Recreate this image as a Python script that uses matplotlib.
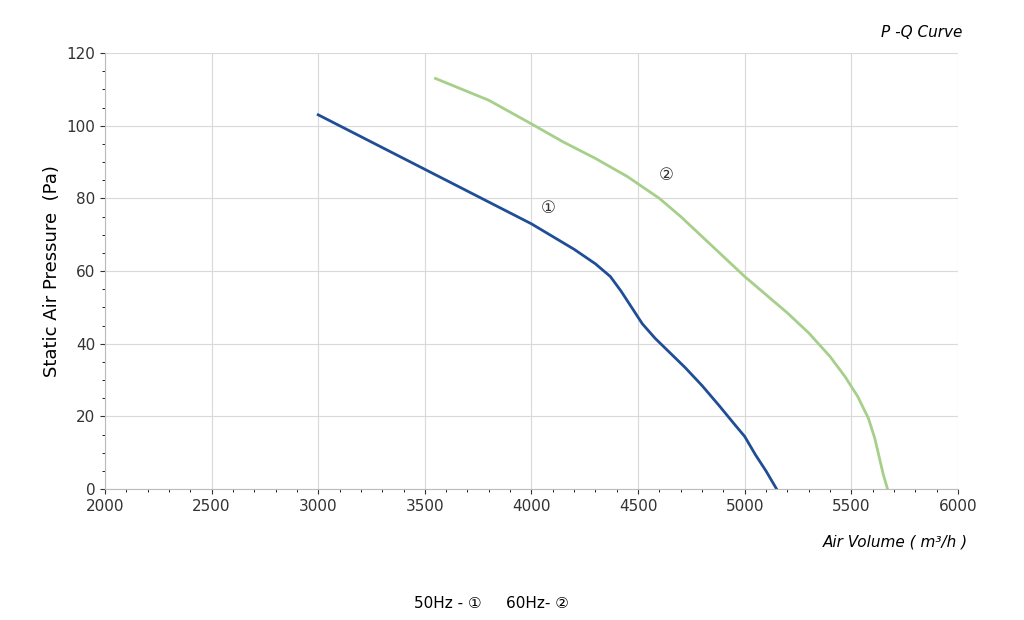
import matplotlib
matplotlib.use("Agg")
import matplotlib.pyplot as plt
from matplotlib.ticker import MultipleLocator

# 50Hz curve
q1 = [3000, 3250, 3500, 3750, 4000, 4100, 4200, 4300, 4370, 4420, 4470, 4520, 4580,
      4650, 4720, 4800, 4880, 4950, 5000, 5050, 5100, 5150]
p1 = [103, 95.5, 88, 80.5, 73, 69.5, 66, 62, 58.5, 54.5, 50, 45.5, 41.5,
      37.5, 33.5, 28.5, 23, 18, 14.5, 9.5, 5, 0]
# 60Hz curve
q2 = [3550, 3800, 4000, 4150, 4300, 4450, 4600, 4700, 4800, 4900, 5000, 5100, 5200,
      5300, 5400, 5470, 5530, 5580, 5610, 5630, 5650, 5670]
p2 = [113, 107, 100.5, 95.5, 91, 86, 80, 75, 69.5, 64, 58.5, 53.5, 48.5,
      43, 36.5, 31, 25.5, 19.5, 14, 9, 4, 0]

fig = plt.figure(figsize=(10.24, 6.2), dpi=100)
ax = fig.add_axes([0.1025, 0.211, 0.833, 0.7035])
ax.plot(q1, p1, color='#1f4e96', linewidth=2)
ax.plot(q2, p2, color='#a6cf8a', linewidth=2)

ax.set_xlim(2000, 6000)
ax.set_ylim(0, 120)
ax.xaxis.set_major_locator(MultipleLocator(500))
ax.xaxis.set_minor_locator(MultipleLocator(100))
ax.yaxis.set_major_locator(MultipleLocator(20))
ax.yaxis.set_minor_locator(MultipleLocator(5))
ax.grid(True, which='major', color='#d9d9d9', linewidth=0.8)
ax.tick_params(labelsize=11, colors='#333333')
for s in ['top', 'right']:
    ax.spines[s].set_visible(False)
for s in ['left', 'bottom']:
    ax.spines[s].set_color('#bbbbbb')

fam = ['DejaVu Sans', 'Noto Sans CJK SC']
ax.text(4080, 76, '①', fontsize=12, family=fam, ha='center', color='#333333')
ax.text(4630, 85, '②', fontsize=12, family=fam, ha='center', color='#333333')

ax.set_ylabel('Static Air Pressure  (Pa)', fontsize=13)
fig.text(0.94, 0.94, 'P -Q Curve', fontsize=11, style='italic', ha='right')
fig.text(0.945, 0.118, 'Air Volume ( m³/h )', fontsize=11, style='italic', ha='right')
fig.text(0.48, 0.02, '50Hz - ①     60Hz- ②', fontsize=11, family=fam, ha='center')

fig.savefig('out.png', dpi=100)
